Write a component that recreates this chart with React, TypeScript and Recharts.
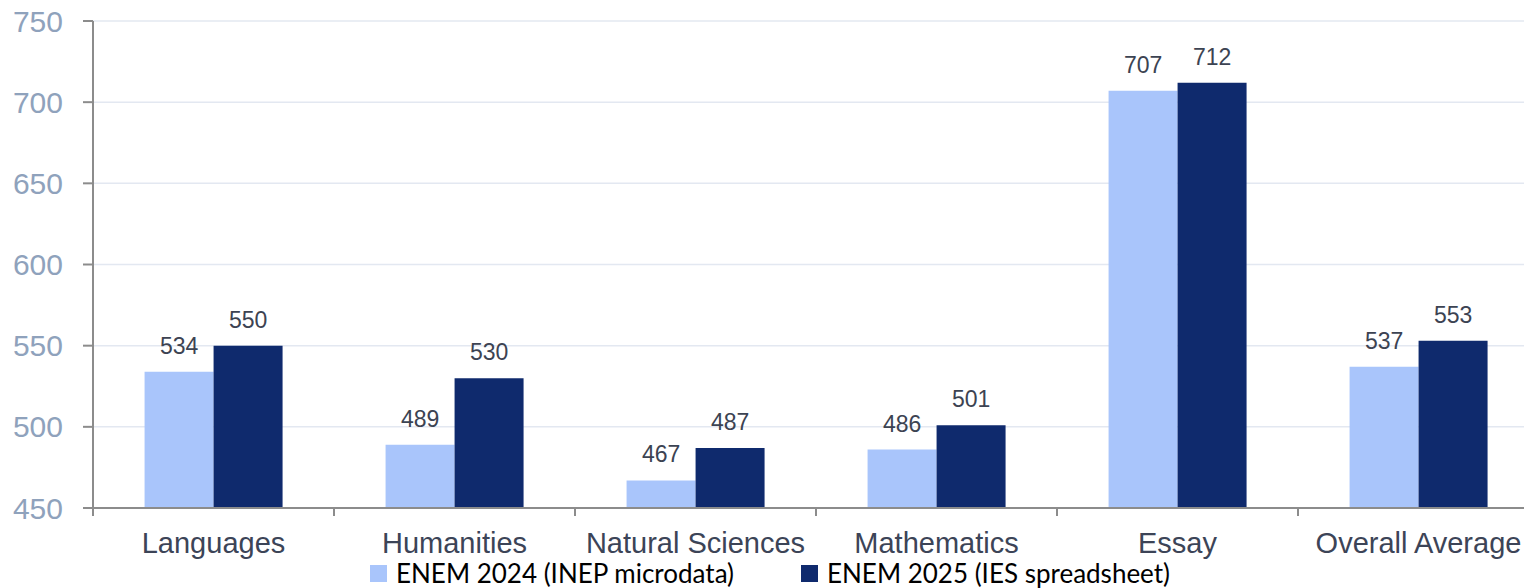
import React from "react";
import {
  BarChart,
  Bar,
  XAxis,
  YAxis,
  CartesianGrid,
  Legend,
  LabelList,
} from "recharts";

// ENEM average scores by area, 2024 microdata vs 2025 spreadsheet

const categories = [
  "Languages",
  "Humanities",
  "Natural Sciences",
  "Mathematics",
  "Essay",
  "Overall Average",
];
const enem2024 = [534, 489, 467, 486, 707, 537];
const enem2025 = [550, 530, 487, 501, 712, 553];
const yTicks = [450, 500, 550, 600, 650, 700, 750];

const SERIES = [
  { key: "y2024", name: "ENEM 2024 (INEP microdata)", color: "#A9C5FB" },
  { key: "y2025", name: "ENEM 2025 (IES spreadsheet)", color: "#0F2A6D" },
];

const CHART_W = 1540;
const CHART_H = 588;
const Y_AXIS_W = 93;
const MARGIN = { top: 21, right: 1, left: 0, bottom: 0 };
const TICK_SIZE = 8;
const TICK_MARGIN = 16;
const AXIS_GREY = "#8C8C8C";

const data = categories.map((name, i) => ({
  name,
  y2024: enem2024[i],
  y2025: enem2025[i],
}));

const bandHalf =
  (CHART_W - MARGIN.left - MARGIN.right - Y_AXIS_W) / categories.length / 2;

// category labels centred, tick marks on the category boundaries
const CategoryTick = ({ x, y, payload, index }: any) => {
  const lineTop = y - TICK_MARGIN - TICK_SIZE;
  const lineBottom = y - TICK_MARGIN;
  return (
    <g>
      <line x1={x - bandHalf} x2={x - bandHalf} y1={lineTop} y2={lineBottom} stroke={AXIS_GREY} strokeWidth={2} />
      {index === categories.length - 1 && (
        <line x1={x + bandHalf} x2={x + bandHalf} y1={lineTop} y2={lineBottom} stroke={AXIS_GREY} strokeWidth={2} />
      )}
      <text
        x={x}
        y={y}
        dy="0.71em"
        textAnchor="middle"
        fill="#3C4457"
        fontSize={29}
        fontFamily="'Liberation Sans', Arial, sans-serif"
      >
        {payload.value}
      </text>
    </g>
  );
};

const LegendContent = () => (
  <div style={{ height: 28, position: "relative", fontFamily: "Lato, 'Open Sans', sans-serif", fontSize: 26, lineHeight: 1, color: "#000" }}>
    {SERIES.map((s, i) => (
      <div
        key={s.key}
        style={{
          position: "absolute",
          left: i === 0 ? 370 : 801,
          top: -1,
          display: "flex",
          alignItems: "center",
          height: 28,
          whiteSpace: "nowrap",
        }}
      >
        <span style={{ display: "inline-block", width: 17, height: 17, background: s.color, marginRight: 9 }} />
        <span>{s.name}</span>
      </div>
    ))}
  </div>
);

export default function App() {
  return (
    <div style={{ position: "absolute", left: 0, top: 0, width: 1524, height: 588, overflow: "hidden", background: "#fff" }}>
      <BarChart
        width={CHART_W}
        height={CHART_H}
        data={data}
        margin={MARGIN}
        barCategoryGap="21.4%"
        barGap={0}
      >
        <CartesianGrid vertical={false} stroke="#E3E8F1" strokeWidth={1.5} />
        <XAxis
          dataKey="name"
          height={52}
          interval={0}
          axisLine={{ stroke: AXIS_GREY, strokeWidth: 2 }}
          tickLine={false}
          tickSize={TICK_SIZE}
          tickMargin={TICK_MARGIN}
          tick={<CategoryTick />}
        />
        <YAxis
          width={Y_AXIS_W}
          domain={[450, 750]}
          ticks={yTicks}
          allowDataOverflow
          axisLine={{ stroke: AXIS_GREY, strokeWidth: 2 }}
          tickLine={{ stroke: AXIS_GREY, strokeWidth: 2 }}
          tickSize={10}
          tickMargin={20}
          tick={{ fill: "#8FA2BC", fontSize: 30, fontFamily: "'Liberation Sans', Arial, sans-serif" }}
        />
        <Legend verticalAlign="bottom" align="left" content={<LegendContent />} wrapperStyle={{ left: 0, width: 1524 }} />
        {SERIES.map((s) => (
          <Bar key={s.key} dataKey={s.key} name={s.name} fill={s.color} isAnimationActive={false}>
            <LabelList
              dataKey={s.key}
              position="top"
              offset={18}
              fill="#3C4352"
              fontSize={23}
              fontFamily="'Liberation Sans', Arial, sans-serif"
            />
          </Bar>
        ))}
      </BarChart>
    </div>
  );
}
